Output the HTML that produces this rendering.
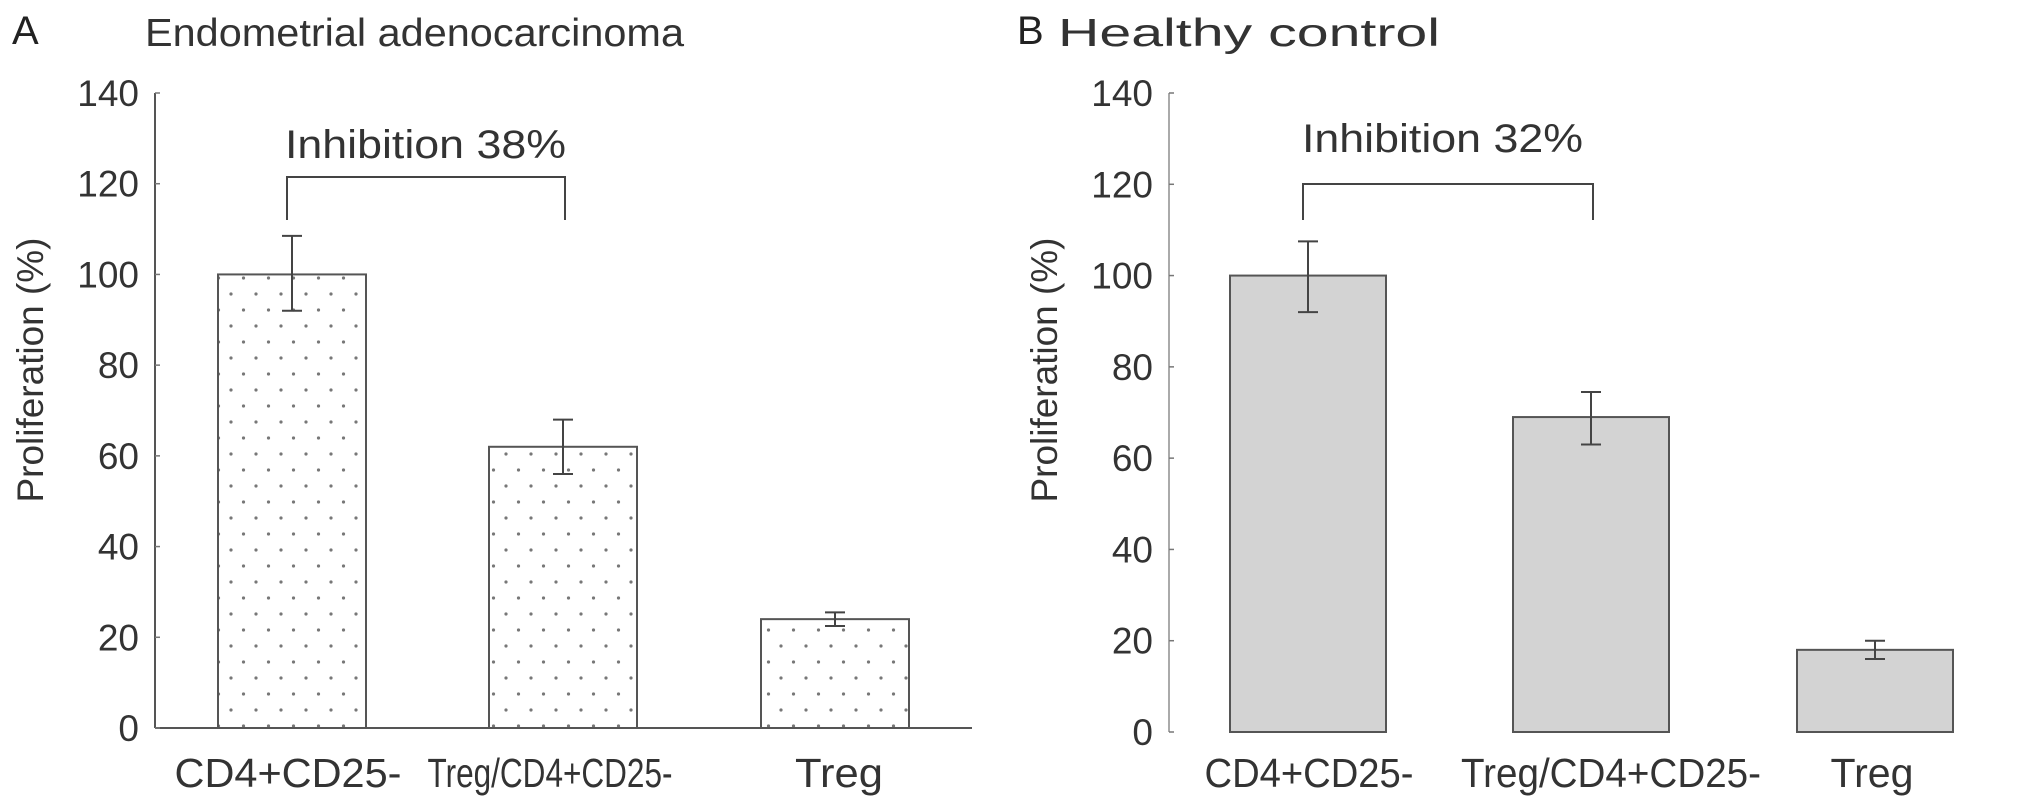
<!DOCTYPE html>
<html><head><meta charset="utf-8"><style>
body{margin:0;background:#fff;}
svg{display:block;font-family:"Liberation Sans",sans-serif;}
</style></head><body>
<svg id="chart" width="2031" height="809" viewBox="0 0 2031 809">
<defs>
<pattern id="dots" width="25" height="32" patternUnits="userSpaceOnUse">
<circle cx="6" cy="6" r="1.6" fill="#777"/><circle cx="18.5" cy="22" r="1.6" fill="#777"/>
</pattern>
</defs>
</svg>
<script>
const categories = ["CD4+CD25-", "Treg/CD4+CD25-", "Treg"];
const valuesA = [100, 62, 24];
const errLowA = [92, 56, 22.5];
const errHighA = [108.5, 68, 25.5];
const valuesB = [100, 69, 18];
const errLowB = [92, 63, 16];
const errHighB = [107.5, 74.5, 20];
const yTicks = [0, 20, 40, 60, 80, 100, 120, 140];
const NS = "http://www.w3.org/2000/svg";
const svg = document.getElementById('chart');
function mk(tag, attrs, parent, text){
  const e = document.createElementNS(NS, tag);
  for (const k in attrs) e.setAttribute(k, attrs[k]);
  if (text !== undefined) e.textContent = text;
  (parent || svg).appendChild(e);
  return e;
}
function panel(cfg){
  const g = mk('g', {});
  
  
  const y = v => cfg.y0 - (v / 140) * (cfg.y0 - cfg.y140);
  const xs = i => cfg.barLeft[i];
  const letter = mk('text', {x: cfg.letterX, y: 44, 'font-size': 40, fill: '#222'}, g, cfg.letter);
  
  
  const title = mk('text', {x: cfg.titleX, y: 46, 'font-size': 39, fill: '#333', textLength: cfg.titleW, lengthAdjust: 'spacingAndGlyphs'}, g, cfg.title);
  
  
  const ax = mk('line', {x1: cfg.axisX, x2: cfg.axisX, y1: y(140), y2: y(0), stroke: cfg.axisColor, 'stroke-width': 2}, g);
  
  
  if (cfg.baseline){
    const bl = mk('line', {x1: cfg.axisX, x2: cfg.baseEnd, y1: y(0), y2: y(0), stroke: '#555', 'stroke-width': 2}, g);
    
    
  }
  yTicks.forEach(t => {
    const tk = mk('line', {x1: cfg.axisX, x2: cfg.axisX + 5, y1: y(t), y2: y(t), stroke: '#777', 'stroke-width': 1.5}, g);
    
    
    const lb = mk('text', {x: cfg.axisX - 16, y: y(t) + 13, 'font-size': 37, fill: '#333', 'text-anchor': 'end'}, g, String(t));
    
    
  });
  const yt = mk('text', {x: 0, y: 0, 'font-size': 37, fill: '#333', 'text-anchor': 'middle', textLength: 265, lengthAdjust: 'spacingAndGlyphs', transform: `translate(${cfg.yTitleX},370) rotate(-90)`}, g, 'Proliferation (%)');
  
  
  cfg.values.forEach((v, i) => {
    const x0 = xs(i), w = cfg.barW;
    const b = mk('rect', {x: x0, y: y(v), width: w, height: y(0) - y(v), fill: cfg.fill, stroke: '#555', 'stroke-width': 2}, g);
    
    
    const cx = x0 + w / 2;
    const e = mk('path', {d: `M${cx},${y(cfg.lo[i])}V${y(cfg.hi[i])}M${cx-10},${y(cfg.lo[i])}h20M${cx-10},${y(cfg.hi[i])}h20`, stroke: '#444', 'stroke-width': 2, fill: 'none'}, g);
    
    
    const cl = mk('text', {x: cfg.catX[i], y: 787, 'font-size': 41, fill: '#333', 'text-anchor': 'middle', textLength: cfg.catW[i], lengthAdjust: 'spacingAndGlyphs'}, g, categories[i]);
    
    
  });
  const c1 = xs(0) + cfg.barW / 2 - 5, c2 = xs(1) + cfg.barW / 2 + 2;
  const br = mk('path', {d: `M${c1},220V${cfg.brTop}H${c2}V220`, stroke: '#444', 'stroke-width': 2, fill: 'none'}, g);
  
  
  const it = mk('text', {x: cfg.inhX, y: cfg.inhY, 'font-size': 40, fill: '#333', textLength: 281, lengthAdjust: 'spacingAndGlyphs'}, g, cfg.inh);
  
  
}
panel({name: 'panel-a', letter: 'A', letterX: 12, title: 'Endometrial adenocarcinoma', titleX: 145, titleW: 539,
  axisX: 155, y0: 728, y140: 93, barLeft: [218, 489, 761], barW: 148, values: valuesA, lo: errLowA, hi: errHighA,
  catX: [288, 550, 839], catW: [227, 245, 88],
  fill: 'url(#dots)', axisColor: '#555', baseline: true, baseEnd: 972, yTitleX: 43,
  brTop: 177, inhX: 285, inhY: 158, inh: 'Inhibition 38%'});
panel({name: 'panel-b', letter: 'B', letterX: 1017, title: 'Healthy control', titleX: 1058, titleW: 382,
  axisX: 1169, y0: 732, y140: 93, barLeft: [1230, 1513, 1797], barW: 156, values: valuesB, lo: errLowB, hi: errHighB,
  catX: [1309, 1611, 1872], catW: [209, 300, 83],
  fill: '#d3d3d3', axisColor: '#aaa', baseline: false, yTitleX: 1057,
  brTop: 184, inhX: 1302, inhY: 152, inh: 'Inhibition 32%'});
</script>
</body></html>
